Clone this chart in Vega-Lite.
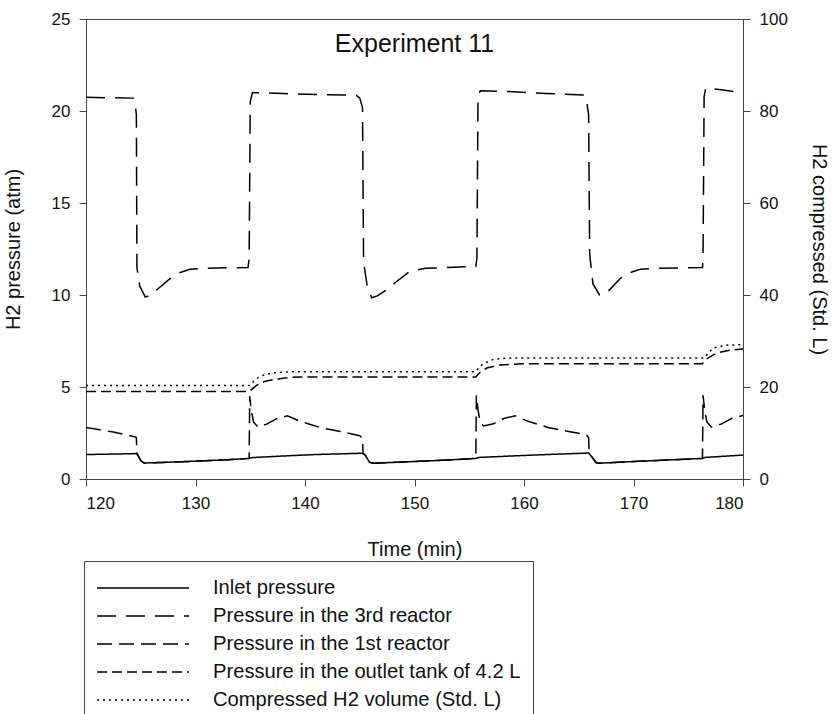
{
  "$schema": "https://vega.github.io/schema/vega-lite/v6.json",
  "autosize": {"type": "none"},
  "padding": {"left": 86, "top": 19, "right": 89, "bottom": 235},
  "width": 657,
  "height": 460,
  "background": "white",
  "config": {
    "font": "Liberation Sans",
    "view": {"stroke": "#444", "strokeWidth": 1},
    "axis": {"domainColor": "#444", "tickColor": "#444", "tickSize": 7, "grid": false, "labelFontSize": 17, "labelColor": "#111", "titleFontSize": 20, "titleFontWeight": "normal", "titleColor": "#111", "labelPadding": 9},
    "legend": {"labelFontSize": 20.2, "labelColor": "#111", "labelLimit": 500, "strokeColor": "#444", "padding": 12, "labelOffset": 23, "symbolStrokeWidth": 1.5, "symbolType": "stroke", "symbolSize": 8464, "clipHeight": 20, "rowPadding": 7, "symbolStrokeColor": "black", "titleFontSize": 2, "titlePadding": 3}
  },
  "datasets": {
    "pressure": [
      {"series": "Inlet pressure", "t": 120, "v": 1.33},
      {"series": "Inlet pressure", "t": 122, "v": 1.35},
      {"series": "Inlet pressure", "t": 124.5, "v": 1.38},
      {"series": "Inlet pressure", "t": 124.7, "v": 1.36},
      {"series": "Inlet pressure", "t": 125.0, "v": 1.0},
      {"series": "Inlet pressure", "t": 125.3, "v": 0.87},
      {"series": "Inlet pressure", "t": 127, "v": 0.9},
      {"series": "Inlet pressure", "t": 130, "v": 0.97},
      {"series": "Inlet pressure", "t": 133, "v": 1.05},
      {"series": "Inlet pressure", "t": 134.9, "v": 1.12},
      {"series": "Inlet pressure", "t": 135.1, "v": 1.16},
      {"series": "Inlet pressure", "t": 138, "v": 1.25},
      {"series": "Inlet pressure", "t": 141, "v": 1.33},
      {"series": "Inlet pressure", "t": 145.2, "v": 1.4},
      {"series": "Inlet pressure", "t": 145.5, "v": 1.3},
      {"series": "Inlet pressure", "t": 145.9, "v": 0.9},
      {"series": "Inlet pressure", "t": 146.3, "v": 0.86},
      {"series": "Inlet pressure", "t": 150, "v": 0.95},
      {"series": "Inlet pressure", "t": 153, "v": 1.03},
      {"series": "Inlet pressure", "t": 155.6, "v": 1.12},
      {"series": "Inlet pressure", "t": 155.8, "v": 1.17},
      {"series": "Inlet pressure", "t": 160, "v": 1.28},
      {"series": "Inlet pressure", "t": 163, "v": 1.35},
      {"series": "Inlet pressure", "t": 165.9, "v": 1.41},
      {"series": "Inlet pressure", "t": 166.2, "v": 1.2},
      {"series": "Inlet pressure", "t": 166.6, "v": 0.88},
      {"series": "Inlet pressure", "t": 167, "v": 0.86},
      {"series": "Inlet pressure", "t": 170, "v": 0.95},
      {"series": "Inlet pressure", "t": 173, "v": 1.03},
      {"series": "Inlet pressure", "t": 176.3, "v": 1.12},
      {"series": "Inlet pressure", "t": 176.5, "v": 1.17},
      {"series": "Inlet pressure", "t": 180, "v": 1.3},

      {"series": "Pressure in the 3rd reactor", "t": 120, "v": 20.75},
      {"series": "Pressure in the 3rd reactor", "t": 122, "v": 20.72},
      {"series": "Pressure in the 3rd reactor", "t": 124.3, "v": 20.7},
      {"series": "Pressure in the 3rd reactor", "t": 124.5, "v": 20.3},
      {"series": "Pressure in the 3rd reactor", "t": 124.6, "v": 19.8},
      {"series": "Pressure in the 3rd reactor", "t": 124.65, "v": 11.5},
      {"series": "Pressure in the 3rd reactor", "t": 124.9, "v": 10.5},
      {"series": "Pressure in the 3rd reactor", "t": 125.4, "v": 9.9},
      {"series": "Pressure in the 3rd reactor", "t": 125.8, "v": 9.95},
      {"series": "Pressure in the 3rd reactor", "t": 126.5, "v": 10.3},
      {"series": "Pressure in the 3rd reactor", "t": 127.7, "v": 10.9},
      {"series": "Pressure in the 3rd reactor", "t": 128.5, "v": 11.2},
      {"series": "Pressure in the 3rd reactor", "t": 129.5, "v": 11.4},
      {"series": "Pressure in the 3rd reactor", "t": 131, "v": 11.45},
      {"series": "Pressure in the 3rd reactor", "t": 134.8, "v": 11.5},
      {"series": "Pressure in the 3rd reactor", "t": 134.9, "v": 12},
      {"series": "Pressure in the 3rd reactor", "t": 135.0, "v": 20.5},
      {"series": "Pressure in the 3rd reactor", "t": 135.2, "v": 21.0},
      {"series": "Pressure in the 3rd reactor", "t": 138, "v": 20.95},
      {"series": "Pressure in the 3rd reactor", "t": 141, "v": 20.9},
      {"series": "Pressure in the 3rd reactor", "t": 144.7, "v": 20.85},
      {"series": "Pressure in the 3rd reactor", "t": 145.0, "v": 20.7},
      {"series": "Pressure in the 3rd reactor", "t": 145.25, "v": 20.2},
      {"series": "Pressure in the 3rd reactor", "t": 145.35, "v": 11.8},
      {"series": "Pressure in the 3rd reactor", "t": 145.7, "v": 10.4},
      {"series": "Pressure in the 3rd reactor", "t": 146.1, "v": 9.85},
      {"series": "Pressure in the 3rd reactor", "t": 146.6, "v": 9.95},
      {"series": "Pressure in the 3rd reactor", "t": 147.5, "v": 10.3},
      {"series": "Pressure in the 3rd reactor", "t": 148.5, "v": 10.8},
      {"series": "Pressure in the 3rd reactor", "t": 149.6, "v": 11.3},
      {"series": "Pressure in the 3rd reactor", "t": 151, "v": 11.45},
      {"series": "Pressure in the 3rd reactor", "t": 155.6, "v": 11.55},
      {"series": "Pressure in the 3rd reactor", "t": 155.7, "v": 12},
      {"series": "Pressure in the 3rd reactor", "t": 155.8, "v": 20.8},
      {"series": "Pressure in the 3rd reactor", "t": 156, "v": 21.1},
      {"series": "Pressure in the 3rd reactor", "t": 159, "v": 21.05},
      {"series": "Pressure in the 3rd reactor", "t": 162, "v": 20.95},
      {"series": "Pressure in the 3rd reactor", "t": 165.5, "v": 20.87},
      {"series": "Pressure in the 3rd reactor", "t": 165.7, "v": 20.6},
      {"series": "Pressure in the 3rd reactor", "t": 165.9, "v": 19.8},
      {"series": "Pressure in the 3rd reactor", "t": 166.0, "v": 12.2},
      {"series": "Pressure in the 3rd reactor", "t": 166.3, "v": 10.6},
      {"series": "Pressure in the 3rd reactor", "t": 166.9, "v": 10.0},
      {"series": "Pressure in the 3rd reactor", "t": 167.6, "v": 10.15},
      {"series": "Pressure in the 3rd reactor", "t": 168.8, "v": 10.9},
      {"series": "Pressure in the 3rd reactor", "t": 169.6, "v": 11.2},
      {"series": "Pressure in the 3rd reactor", "t": 170.6, "v": 11.4},
      {"series": "Pressure in the 3rd reactor", "t": 172, "v": 11.45},
      {"series": "Pressure in the 3rd reactor", "t": 176.3, "v": 11.5},
      {"series": "Pressure in the 3rd reactor", "t": 176.35, "v": 12},
      {"series": "Pressure in the 3rd reactor", "t": 176.45, "v": 20.8},
      {"series": "Pressure in the 3rd reactor", "t": 176.6, "v": 21.25},
      {"series": "Pressure in the 3rd reactor", "t": 178, "v": 21.15},
      {"series": "Pressure in the 3rd reactor", "t": 180, "v": 21.0},

      {"series": "Pressure in the 1st reactor", "t": 120, "v": 2.8},
      {"series": "Pressure in the 1st reactor", "t": 121, "v": 2.7},
      {"series": "Pressure in the 1st reactor", "t": 122.5, "v": 2.55},
      {"series": "Pressure in the 1st reactor", "t": 124.4, "v": 2.3},
      {"series": "Pressure in the 1st reactor", "t": 124.6, "v": 2.25},
      {"series": "Pressure in the 1st reactor", "t": 124.65, "v": 1.36},
      {"series": "Pressure in the 1st reactor", "t": 125.0, "v": 1.0},
      {"series": "Pressure in the 1st reactor", "t": 125.3, "v": 0.87},
      {"series": "Pressure in the 1st reactor", "t": 127, "v": 0.9},
      {"series": "Pressure in the 1st reactor", "t": 130, "v": 0.97},
      {"series": "Pressure in the 1st reactor", "t": 133, "v": 1.05},
      {"series": "Pressure in the 1st reactor", "t": 134.9, "v": 1.12},
      {"series": "Pressure in the 1st reactor", "t": 134.95, "v": 4.5},
      {"series": "Pressure in the 1st reactor", "t": 135.1, "v": 3.7},
      {"series": "Pressure in the 1st reactor", "t": 135.3, "v": 3.1},
      {"series": "Pressure in the 1st reactor", "t": 135.7, "v": 2.83},
      {"series": "Pressure in the 1st reactor", "t": 136.5, "v": 2.98},
      {"series": "Pressure in the 1st reactor", "t": 137.5, "v": 3.3},
      {"series": "Pressure in the 1st reactor", "t": 138.4, "v": 3.43},
      {"series": "Pressure in the 1st reactor", "t": 139.5, "v": 3.15},
      {"series": "Pressure in the 1st reactor", "t": 141.5, "v": 2.78},
      {"series": "Pressure in the 1st reactor", "t": 143.5, "v": 2.55},
      {"series": "Pressure in the 1st reactor", "t": 145.0, "v": 2.35},
      {"series": "Pressure in the 1st reactor", "t": 145.25, "v": 2.2},
      {"series": "Pressure in the 1st reactor", "t": 145.3, "v": 1.4},
      {"series": "Pressure in the 1st reactor", "t": 145.5, "v": 1.3},
      {"series": "Pressure in the 1st reactor", "t": 145.9, "v": 0.9},
      {"series": "Pressure in the 1st reactor", "t": 146.3, "v": 0.86},
      {"series": "Pressure in the 1st reactor", "t": 150, "v": 0.95},
      {"series": "Pressure in the 1st reactor", "t": 153, "v": 1.03},
      {"series": "Pressure in the 1st reactor", "t": 155.6, "v": 1.12},
      {"series": "Pressure in the 1st reactor", "t": 155.65, "v": 4.55},
      {"series": "Pressure in the 1st reactor", "t": 155.8, "v": 3.75},
      {"series": "Pressure in the 1st reactor", "t": 156.0, "v": 3.1},
      {"series": "Pressure in the 1st reactor", "t": 156.3, "v": 2.88},
      {"series": "Pressure in the 1st reactor", "t": 157.2, "v": 3.0},
      {"series": "Pressure in the 1st reactor", "t": 158.2, "v": 3.3},
      {"series": "Pressure in the 1st reactor", "t": 159.2, "v": 3.43},
      {"series": "Pressure in the 1st reactor", "t": 160.3, "v": 3.15},
      {"series": "Pressure in the 1st reactor", "t": 162.2, "v": 2.8},
      {"series": "Pressure in the 1st reactor", "t": 164.2, "v": 2.57},
      {"series": "Pressure in the 1st reactor", "t": 165.7, "v": 2.4},
      {"series": "Pressure in the 1st reactor", "t": 165.9, "v": 2.25},
      {"series": "Pressure in the 1st reactor", "t": 165.95, "v": 1.41},
      {"series": "Pressure in the 1st reactor", "t": 166.2, "v": 1.2},
      {"series": "Pressure in the 1st reactor", "t": 166.6, "v": 0.88},
      {"series": "Pressure in the 1st reactor", "t": 167, "v": 0.86},
      {"series": "Pressure in the 1st reactor", "t": 170, "v": 0.95},
      {"series": "Pressure in the 1st reactor", "t": 173, "v": 1.03},
      {"series": "Pressure in the 1st reactor", "t": 176.3, "v": 1.12},
      {"series": "Pressure in the 1st reactor", "t": 176.35, "v": 4.55},
      {"series": "Pressure in the 1st reactor", "t": 176.5, "v": 3.75},
      {"series": "Pressure in the 1st reactor", "t": 176.7, "v": 3.1},
      {"series": "Pressure in the 1st reactor", "t": 177.1, "v": 2.83},
      {"series": "Pressure in the 1st reactor", "t": 178, "v": 2.98},
      {"series": "Pressure in the 1st reactor", "t": 179, "v": 3.3},
      {"series": "Pressure in the 1st reactor", "t": 180, "v": 3.45},

      {"series": "Pressure in the outlet tank of 4.2 L", "t": 120, "v": 4.75},
      {"series": "Pressure in the outlet tank of 4.2 L", "t": 134.9, "v": 4.75},
      {"series": "Pressure in the outlet tank of 4.2 L", "t": 135.2, "v": 4.9},
      {"series": "Pressure in the outlet tank of 4.2 L", "t": 135.6, "v": 5.1},
      {"series": "Pressure in the outlet tank of 4.2 L", "t": 136.3, "v": 5.3},
      {"series": "Pressure in the outlet tank of 4.2 L", "t": 137.4, "v": 5.43},
      {"series": "Pressure in the outlet tank of 4.2 L", "t": 138.6, "v": 5.52},
      {"series": "Pressure in the outlet tank of 4.2 L", "t": 140, "v": 5.55},
      {"series": "Pressure in the outlet tank of 4.2 L", "t": 155.6, "v": 5.55},
      {"series": "Pressure in the outlet tank of 4.2 L", "t": 155.9, "v": 5.75},
      {"series": "Pressure in the outlet tank of 4.2 L", "t": 156.6, "v": 6.03},
      {"series": "Pressure in the outlet tank of 4.2 L", "t": 157.8, "v": 6.2},
      {"series": "Pressure in the outlet tank of 4.2 L", "t": 159.9, "v": 6.27},
      {"series": "Pressure in the outlet tank of 4.2 L", "t": 176.3, "v": 6.27},
      {"series": "Pressure in the outlet tank of 4.2 L", "t": 176.6, "v": 6.5},
      {"series": "Pressure in the outlet tank of 4.2 L", "t": 177.6, "v": 6.85},
      {"series": "Pressure in the outlet tank of 4.2 L", "t": 178.8, "v": 7.0},
      {"series": "Pressure in the outlet tank of 4.2 L", "t": 180, "v": 7.07}
    ],
    "volume": [
      {"series": "Compressed H2 volume (Std. L)", "t": 120, "v": 20.3},
      {"series": "Compressed H2 volume (Std. L)", "t": 134.95, "v": 20.3},
      {"series": "Compressed H2 volume (Std. L)", "t": 135.3, "v": 21.2},
      {"series": "Compressed H2 volume (Std. L)", "t": 135.7, "v": 22.0},
      {"series": "Compressed H2 volume (Std. L)", "t": 136.3, "v": 22.7},
      {"series": "Compressed H2 volume (Std. L)", "t": 137.2, "v": 23.1},
      {"series": "Compressed H2 volume (Std. L)", "t": 138.6, "v": 23.3},
      {"series": "Compressed H2 volume (Std. L)", "t": 155.6, "v": 23.3},
      {"series": "Compressed H2 volume (Std. L)", "t": 155.9, "v": 24.3},
      {"series": "Compressed H2 volume (Std. L)", "t": 156.3, "v": 25.1},
      {"series": "Compressed H2 volume (Std. L)", "t": 157.2, "v": 26.0},
      {"series": "Compressed H2 volume (Std. L)", "t": 158.5, "v": 26.3},
      {"series": "Compressed H2 volume (Std. L)", "t": 176.5, "v": 26.3},
      {"series": "Compressed H2 volume (Std. L)", "t": 176.8, "v": 27.3},
      {"series": "Compressed H2 volume (Std. L)", "t": 177.3, "v": 28.5},
      {"series": "Compressed H2 volume (Std. L)", "t": 178.5, "v": 29.1},
      {"series": "Compressed H2 volume (Std. L)", "t": 180, "v": 29.2}
    ],
    "caption": [
      {"label": "Experiment 11"}
    ]
  },
  "layer": [
    {
      "layer": [
        {
          "data": {"name": "pressure"},
          "mark": {"type": "line", "color": "black", "strokeWidth": 1.5, "clip": true},
          "encoding": {
            "x": {"field": "t", "type": "quantitative", "scale": {"domain": [120, 180], "nice": false}, "axis": {"title": "Time (min)", "values": [120, 130, 140, 150, 160, 170, 180], "titlePadding": 28}},
            "y": {"field": "v", "type": "quantitative", "scale": {"domain": [0, 25], "nice": false}, "axis": {"title": "H2 pressure (atm)", "orient": "left", "values": [0, 5, 10, 15, 20, 25], "titlePadding": 28}},
            "strokeDash": {
              "field": "series", "type": "nominal",
              "scale": {
                "domain": ["Inlet pressure", "Pressure in the 3rd reactor", "Pressure in the 1st reactor", "Pressure in the outlet tank of 4.2 L", "Compressed H2 volume (Std. L)"],
                "range": [[1, 0], [19, 10], [15, 7], [10, 5], [2, 4]]
              },
              "legend": {"title": " ", "orient": "none", "legendX": -2, "legendY": 542}
            }
          }
        },
        {
          "data": {"name": "caption"},
          "mark": {"type": "text", "fontSize": 25, "color": "#111", "align": "center", "baseline": "alphabetic"},
          "encoding": {
            "x": {"datum": 150, "type": "quantitative", "title": "Time (min)"},
            "y": {"datum": 23.2, "type": "quantitative", "title": "H2 pressure (atm)"},
            "text": {"field": "label", "type": "nominal"}
          }
        }
      ]
    },
    {
      "data": {"name": "volume"},
      "mark": {"type": "line", "color": "black", "strokeWidth": 1.5, "clip": true},
      "encoding": {
        "x": {"field": "t", "type": "quantitative", "title": "Time (min)"},
        "y": {"field": "v", "type": "quantitative", "scale": {"domain": [0, 100], "nice": false}, "axis": {"title": "H2 compressed (Std. L)", "orient": "right", "values": [0, 20, 40, 60, 80, 100], "titlePadding": 21}},
        "strokeDash": {
          "field": "series", "type": "nominal",
          "legend": {"title": " ", "orient": "none", "legendX": -2, "legendY": 542}
        }
      }
    }
  ],
  "resolve": {"scale": {"y": "independent"}, "axis": {"y": "independent"}}
}
